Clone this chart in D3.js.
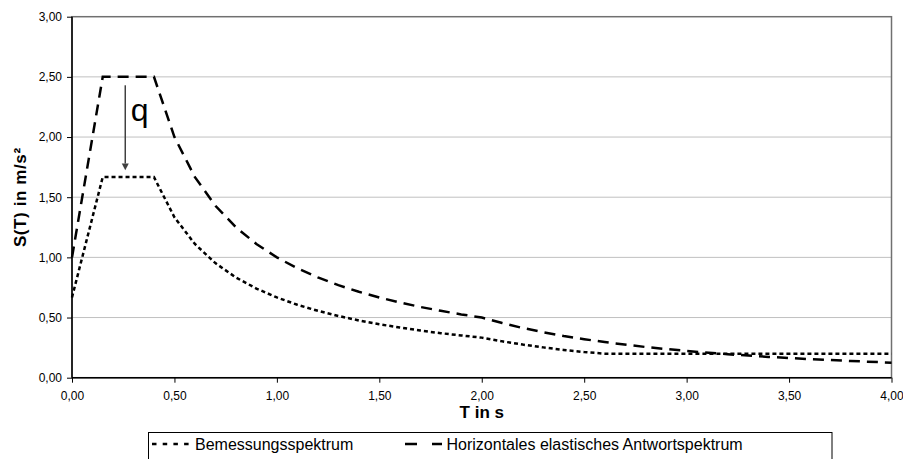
<!DOCTYPE html>
<html>
<head>
<meta charset="utf-8">
<script src="https://cdn.jsdelivr.net/npm/d3@7"></script>
<style>
  body { margin: 0; background: #fff; }
  svg { display: block; font-family: Arial, "Liberation Sans", sans-serif; }
</style>
</head>
<body>
<div id="chart"></div>
<script>
// ---------------------------------------------------------------------------
// Data: response spectra, T in s, S(T) in m/s²
// ---------------------------------------------------------------------------
const periods = [0, 0.15, 0.4, 0.5, 0.6, 0.7, 0.8, 0.9, 1.0, 1.1, 1.2, 1.3, 1.4, 1.5,
    1.6, 1.7, 1.8, 1.9, 2.0, 2.1, 2.2, 2.3, 2.4, 2.5, 2.6, 2.8, 3.0, 3.2, 3.4, 3.6, 3.8, 4.0];

const designValues = [0.667, 1.667, 1.667, 1.333, 1.111, 0.952, 0.833, 0.741, 0.667, 0.606,
    0.556, 0.513, 0.476, 0.444, 0.417, 0.392, 0.370, 0.351, 0.333, 0.302, 0.275, 0.252,
    0.231, 0.213, 0.200, 0.200, 0.200, 0.200, 0.200, 0.200, 0.200, 0.200];

const elasticValues = [1.0, 2.5, 2.5, 2.0, 1.667, 1.429, 1.25, 1.111, 1.0, 0.909,
    0.833, 0.769, 0.714, 0.667, 0.625, 0.588, 0.556, 0.526, 0.5, 0.454, 0.413, 0.378,
    0.347, 0.320, 0.296, 0.255, 0.222, 0.195, 0.173, 0.154, 0.139, 0.125];

const xTicks = [0, 0.5, 1, 1.5, 2, 2.5, 3, 3.5, 4];
const yTicks = [0, 0.5, 1, 1.5, 2, 2.5, 3];
const seriesNames = ['Bemessungsspektrum', 'Horizontales elastisches Antwortspektrum'];

// ---------------------------------------------------------------------------
const width = 903, height = 459;
const plot = { left: 72, right: 891.5, top: 16.7, bottom: 377.7 };

const de = d3.formatLocale({ decimal: ',', thousands: '.', grouping: [3], currency: ['', ' €'] });
const fmt = de.format('.2f');

const svg = d3.select('#chart').append('svg')
    .attr('width', width)
    .attr('height', height);

const x = d3.scaleLinear().domain([0, 4]).range([plot.left, plot.right]);
const y = d3.scaleLinear().domain([0, 3]).range([plot.bottom, plot.top]);

// Grid
svg.append('g')
    .selectAll('line')
    .data(yTicks.filter(d => d > 0 && d < 3))
    .join('line')
    .attr('x1', plot.left).attr('x2', plot.right)
    .attr('y1', d => y(d)).attr('y2', d => y(d))
    .attr('stroke', '#c0c0c0')
    .attr('stroke-width', 1);

// Plot area frame
svg.append('rect')
    .attr('x', plot.left).attr('y', plot.top)
    .attr('width', plot.right - plot.left)
    .attr('height', plot.bottom - plot.top)
    .attr('fill', 'none')
    .attr('stroke', '#707070')
    .attr('stroke-width', 1.5);

// Axes
const yAxis = svg.append('g')
    .attr('transform', `translate(${plot.left},0)`)
    .call(d3.axisLeft(y).tickValues(yTicks).tickFormat(fmt).tickSize(5).tickPadding(5));

const xAxis = svg.append('g')
    .attr('transform', `translate(0,${plot.bottom})`)
    .call(d3.axisBottom(x).tickValues(xTicks).tickFormat(fmt).tickSize(5).tickPadding(9));

[xAxis, yAxis].forEach(ax => {
    ax.select('.domain').attr('stroke', '#000').attr('stroke-width', 1.5);
    ax.selectAll('.tick line').attr('stroke', '#000');
    ax.selectAll('text')
        .style('font-size', '12px')
        .attr('fill', '#000');
});
xAxis.select('.domain').attr('d', `M${plot.left},0H${plot.right}`);
yAxis.select('.domain').attr('d', `M0,${plot.top}V${plot.bottom}`);

// Axis titles
svg.append('text')
    .attr('x', (plot.left + plot.right) / 2)
    .attr('y', 418)
    .attr('text-anchor', 'middle')
    .style('font-size', '17px')
    .style('font-weight', 'bold')
    .text('T in s');

svg.append('text')
    .attr('transform', `translate(26,${(plot.top + plot.bottom) / 2}) rotate(-90)`)
    .attr('text-anchor', 'middle')
    .style('font-size', '17px')
    .style('font-weight', 'bold')
    .style('letter-spacing', '0.6px')
    .text('S(T) in m/s²');

// Lines
const line = vals => d3.line()
    .x((d, i) => x(periods[i]))
    .y(d => y(d))(vals);

svg.append('path')
    .attr('d', line(designValues))
    .attr('fill', 'none')
    .attr('stroke', '#000')
    .attr('stroke-width', 2.5)
    .attr('stroke-dasharray', '4,3');

svg.append('path')
    .attr('d', line(elasticValues))
    .attr('fill', 'none')
    .attr('stroke', '#000')
    .attr('stroke-width', 2.5)
    .attr('stroke-dasharray', '11,7');

// Behaviour factor annotation
const ax0 = x(0.26);
svg.append('line')
    .attr('x1', ax0).attr('x2', ax0)
    .attr('y1', y(2.43)).attr('y2', y(1.78))
    .attr('stroke', '#404040')
    .attr('stroke-width', 1.5);
svg.append('path')
    .attr('d', `M${ax0 - 3.5},${y(1.78)}L${ax0 + 3.5},${y(1.78)}L${ax0},${y(1.725)}Z`)
    .attr('fill', '#404040');
svg.append('text')
    .attr('x', x(0.287))
    .attr('y', y(2.13))
    .style('font-size', '32px')
    .text('q');

// Legend
const legend = svg.append('g');
legend.append('rect')
    .attr('x', 148.5).attr('y', 432.5)
    .attr('width', 683.5).attr('height', 40)
    .attr('fill', '#fff')
    .attr('stroke', '#000')
    .attr('stroke-width', 1);

const legendItems = [
    { x1: 152, x2: 190, tx: 195, dash: '4.5,6.2' },
    { x1: 405, x2: 442, tx: 446.5, dash: '12,15' }
];
legendItems.forEach((it, i) => {
    legend.append('line')
        .attr('x1', it.x1).attr('x2', it.x2)
        .attr('y1', 444).attr('y2', 444)
        .attr('stroke', '#000')
        .attr('stroke-width', 2.5)
        .attr('stroke-dasharray', it.dash);
    legend.append('text')
        .attr('x', it.tx)
        .attr('y', 450)
        .style('font-size', '16px')
        .text(seriesNames[i]);
});
</script>
</body>
</html>
